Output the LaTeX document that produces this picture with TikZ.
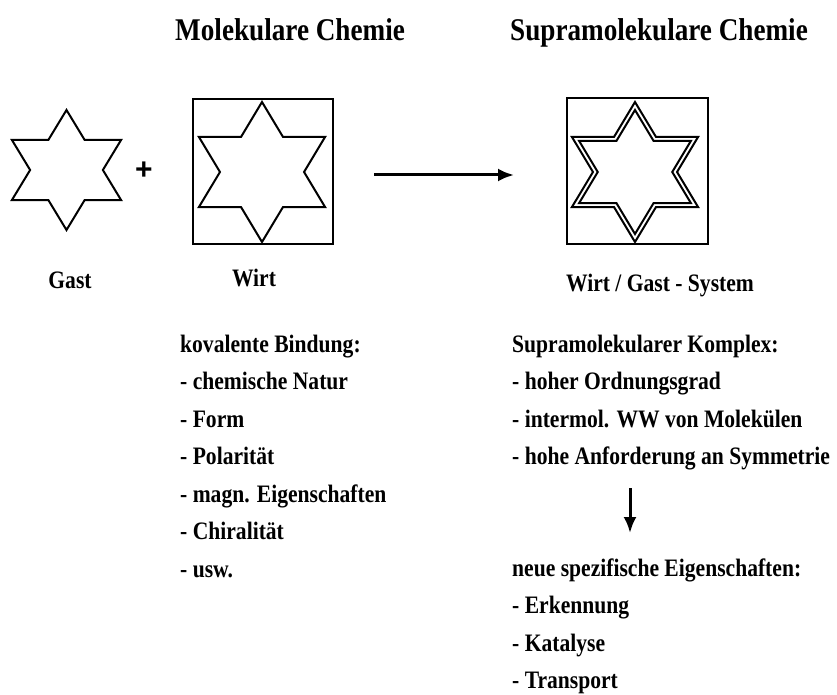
\documentclass[tikz,border=0pt]{standalone}
\usepackage{fontspec}
\setmainfont{Liberation Serif}[FakeStretch=0.86]
\newfontfamily\plusfont{Liberation Sans}
\usetikzlibrary{arrows.meta,calc}
\tikzset{
  body/.style={anchor=base west, inner sep=0pt, font=\fontsize{25.1}{30}\selectfont\bfseries},
  head/.style={anchor=base west, inner sep=0pt, font=\fontsize{31.6}{36}\selectfont\bfseries},
  lbl/.style={anchor=base, inner sep=0pt, font=\fontsize{25.1}{30}\selectfont\bfseries},
  frame/.style={draw, line width=2.8pt, inner sep=0pt},
  starline/.style={line width=2pt, line join=miter},
  arr/.style={line width=3pt, -{Latex[length=16pt,width=13pt]}}
}
% star: #2 centre, #3 outer radius, #4 xscale
\newcommand{\hexstar}[4][]{%
  \draw[starline,#1] ($(#2)+({#4*#3*cos(90)},{#3*sin(90)})$)
  \foreach \k in {1,...,11}{
    -- ($(#2)+({#4*(mod(\k,2)==0 ? #3 : #3/sqrt(3))*cos(90+30*\k)},{(mod(\k,2)==0 ? #3 : #3/sqrt(3))*sin(90+30*\k)})$)
  } -- cycle;}
\begin{document}
\begin{tikzpicture}[x=1pt,y=-1pt]
\useasboundingbox (0,0) rectangle (837,695);
% headings
\node[head] (h1) at (175,41) {Molekulare Chemie};
\node[head] (h2) at (510,41) {Supramolekulare Chemie};
% stars and boxes
\coordinate (cg) at (66.5,170);
\coordinate (cw) at (262,172);
\coordinate (cs) at (635,172);
\hexstar{cg}{-60}{1.05}
\node[frame, minimum width=140pt, minimum height=145pt] (wbox) at (263,171.5) {};
\hexstar{cw}{-70}{1.04}
\node[frame, minimum width=141pt, minimum height=146pt] (sbox) at (637.5,171) {};
\hexstar{cs}{-70}{1.04}
\hexstar{cs}{-62}{1.04}
\node[inner sep=0pt, font=\plusfont\fontsize{30}{32}\selectfont\bfseries] (plus) at (144,171) {+};
% main arrow
\coordinate (a1) at (374,175);
\coordinate (a2) at (514,175);
\draw[arr] (a1) -- (a2);
% labels
\node[lbl] (gast) at (70,288) {Gast};
\node[lbl] (wirt) at (254,286) {Wirt};
\node[lbl] (sys) at (660,291) {Wirt / Gast - System};
% left column
\node[body] (l1) at (180,352) {kovalente Bindung:};
\node[body] (l2) at (180,389.5) {- chemische Natur};
\node[body] (l3) at (180,427) {- Form};
\node[body] (l4) at (180,464.5) {- Polarität};
\node[body] (l5) at (180,502) {- magn. Eigenschaften};
\node[body] (l6) at (180,539.5) {- Chiralität};
\node[body] (l7) at (180,577) {- usw.};
% right column
\node[body] (r1) at (512,352) {Supramolekularer Komplex:};
\node[body] (r2) at (512,389.5) {- hoher Ordnungsgrad};
\node[body] (r3) at (512,427) {- intermol. WW von Molekülen};
\node[body] (r4) at (512,464.5) {- hohe Anforderung an Symmetrie};
\coordinate (d1) at (630,488);
\coordinate (d2) at (630,533);
\draw[arr] (d1) -- (d2);
\node[body] (r5) at (512,576) {neue spezifische Eigenschaften:};
\node[body] (r6) at (512,613.5) {- Erkennung};
\node[body] (r7) at (512,651) {- Katalyse};
\node[body] (r8) at (512,688) {- Transport};
\end{tikzpicture}
\end{document}
